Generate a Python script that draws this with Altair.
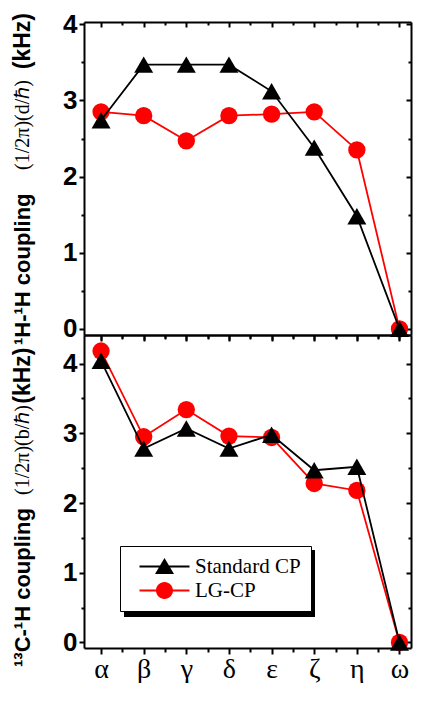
import json
import altair as alt
import pandas as pd

# ---------------- data ----------------
categories = ["α", "β", "γ", "δ", "ε", "ζ", "η", "ω"]
series_names = ["Standard CP", "LG-CP"]
series_colors = ["#000000", "#ff0000"]

hh_standard = [2.74, 3.47, 3.47, 3.47, 3.12, 2.38, 1.48, 0.0]
hh_lg = [2.85, 2.80, 2.47, 2.80, 2.82, 2.85, 2.35, 0.0]
ch_standard = [4.04, 2.78, 3.07, 2.78, 2.98, 2.47, 2.52, 0.0]
ch_lg = [4.18, 2.95, 3.34, 2.96, 2.94, 2.28, 2.18, 0.0]

y_ticks = [0, 0.5, 1, 1.5, 2, 2.5, 3, 3.5, 4]
x_ticks = [0, 0.5, 1, 1.5, 2, 2.5, 3, 3.5, 4, 4.5, 5, 5.5, 6, 6.5, 7]

top_title = ["¹H-¹H coupling", "(1/2π)(d/ℏ)", "(kHz)"]
bottom_title = ["¹³C-¹H coupling", "(1/2π)(b/ℏ)", "(kHz)"]

# ---------------- layout ----------------
W = 327
H_TOP = 313
H_BOT = 313
X_DOMAIN = [-0.4, 7.27]
Y_TOP = [-0.08, 4.03]
Y_BOT = [-0.08, 4.41]
TITLE_X = -61

LEG_X = 36
LEG_Y = 211
LEG_W = 191
LEG_H = 67

TRI_PATH = "M-2.5,-0.09L2.5,-0.09L2.5,0.09L-2.5,0.09Z M0,-0.85L0.95,0.75L-0.95,0.75Z"
CIRC_PATH = ("M-2.5,-0.09L2.5,-0.09L2.5,0.09L-2.5,0.09Z "
             "M-0.85,0A0.85,0.85,0,1,1,0.85,0A0.85,0.85,0,1,1,-0.85,0Z")


def make_df(std, lg):
    rows = []
    for name, vals in zip(series_names, [std, lg]):
        for i, c in enumerate(categories):
            rows.append({"cat": c, "idx": i, "series": name, "value": vals[i]})
    return pd.DataFrame(rows)


def minor(major, minor_):
    return {"condition": {"test": "datum.value % 1 !== 0", "value": minor_}, "value": major}


AX = dict(domainColor="black", domainWidth=2, tickColor="black", tickWidth=2,
          grid=False, title=None, labelColor="black", labelFlush=False,
          labelOverlap=False)

cat_js = json.dumps(categories, ensure_ascii=False)


def panel(df, ydomain, height, title_parts, is_bottom, title_pos):
    xs = alt.Scale(domain=X_DOMAIN, nice=False, zero=False)
    ys = alt.Scale(domain=ydomain, nice=False, zero=False)

    if is_bottom:
        x_main = alt.Axis(orient="bottom", values=x_ticks, tickSize=minor(6, 4),
                          labelExpr=f"datum.value % 1 === 0 ? {cat_js}[datum.value] : ''",
                          labelFont="Liberation Serif", labelFontSize=28, labelPadding=1,
                          **AX)
    else:
        x_main = alt.Axis(orient="bottom", values=x_ticks, tickSize=minor(6, 4),
                          labels=False, **AX)
    y_main = alt.Axis(orient="left", values=y_ticks, tickSize=minor(5, 3),
                      labelExpr="datum.value % 1 === 0 ? format(datum.value, 'd') : ''",
                      labelFont="Liberation Sans", labelFontWeight="bold",
                      labelFontSize=26, labelPadding=2, **AX)
    x_top = alt.Axis(orient="bottom", offset=-height, values=x_ticks,
                     tickSize=minor(5, 3), labels=False, **AX)
    y_right = alt.Axis(orient="left", offset=-W, values=y_ticks,
                       tickSize=minor(5, 3), labels=False, **AX)

    def X(axis):
        return alt.X("idx:Q", scale=xs, axis=axis)

    def Y(axis):
        return alt.Y("value:Q", scale=ys, axis=axis)

    base = alt.Chart(df)
    lg = base.transform_filter(alt.datum.series == "LG-CP")
    st = base.transform_filter(alt.datum.series == "Standard CP")

    red_line = lg.mark_line(color=series_colors[1], strokeWidth=1.8).encode(
        x=X(x_main), y=Y(y_main))
    red_pts = lg.mark_point(shape="circle", filled=True, color=series_colors[1],
                            size=300, opacity=1).encode(x=X(None), y=Y(None))
    blk_line = st.mark_line(color=series_colors[0], strokeWidth=1.8).encode(
        x=X(None), y=Y(None))
    blk_pts = st.mark_point(shape="triangle-up", filled=True, color=series_colors[0],
                            size=360, opacity=1).encode(x=X(None), y=Y(None))
    frame = base.mark_point(opacity=0).encode(x=X(x_top), y=Y(y_right))

    one = alt.Chart(pd.DataFrame({"k": [0]}))
    ya, yb, yc = title_pos
    ta = one.mark_text(angle=270, align="left", baseline="middle", font="Liberation Sans",
                       fontWeight="bold", fontSize=22, color="black").encode(
        x=alt.value(TITLE_X), y=alt.value(ya), text=alt.value(title_parts[0]))
    tb = one.mark_text(angle=270, align="center", baseline="middle", font="Liberation Serif",
                       fontSize=20, color="black").encode(
        x=alt.value(TITLE_X), y=alt.value(yb), text=alt.value(title_parts[1]))
    tc = one.mark_text(angle=270, align="right", baseline="middle", font="Liberation Sans",
                       fontWeight="bold", fontSize=23, color="black").encode(
        x=alt.value(TITLE_X), y=alt.value(yc), text=alt.value(title_parts[2]))

    layers = [red_line, red_pts, blk_line, blk_pts, frame, ta, tb, tc]

    if is_bottom:
        leg = alt.Legend(title=None, orient="none", legendX=LEG_X, legendY=H_TOP + LEG_Y,
                         padding=10, rowPadding=2, symbolSize=400, symbolOffset=24,
                         labelOffset=20, labelFont="Liberation Serif", labelFontSize=21,
                         labelColor="black", fillColor="white", strokeColor="black",
                         symbolStrokeWidth=0, symbolOpacity=1, labelLimit=300)
        shadow = one.mark_rect(color="black").encode(
            x=alt.value(LEG_X + 4), x2=alt.value(LEG_X + 4 + LEG_W),
            y=alt.value(LEG_Y + 4), y2=alt.value(LEG_Y + 4 + LEG_H))
        carrier = base.mark_point(filled=True, opacity=0, size=400).encode(
            x=X(None), y=Y(None),
            color=alt.Color("series:N", scale=alt.Scale(domain=series_names, range=series_colors),
                            legend=leg),
            shape=alt.Shape("series:N", scale=alt.Scale(domain=series_names,
                                                        range=[TRI_PATH, CIRC_PATH]),
                            legend=leg))
        layers = [shadow] + layers + [carrier]

    return alt.layer(*layers).resolve_axis(x="independent", y="independent").properties(
        width=W, height=height)


top = panel(make_df(hh_standard, hh_lg), Y_TOP, H_TOP, top_title, False, (323, 103, -9))
bottom = panel(make_df(ch_standard, ch_lg), Y_BOT, H_BOT, bottom_title, True, (332, 115, 12.5))

chart = alt.vconcat(top, bottom, spacing=0, bounds="flush").properties(
    padding={"left": 4, "top": 3, "right": 0, "bottom": 0}
).configure_view(stroke=None)

chart.save("out.html", embed_options={"renderer": "svg", "actions": False})
